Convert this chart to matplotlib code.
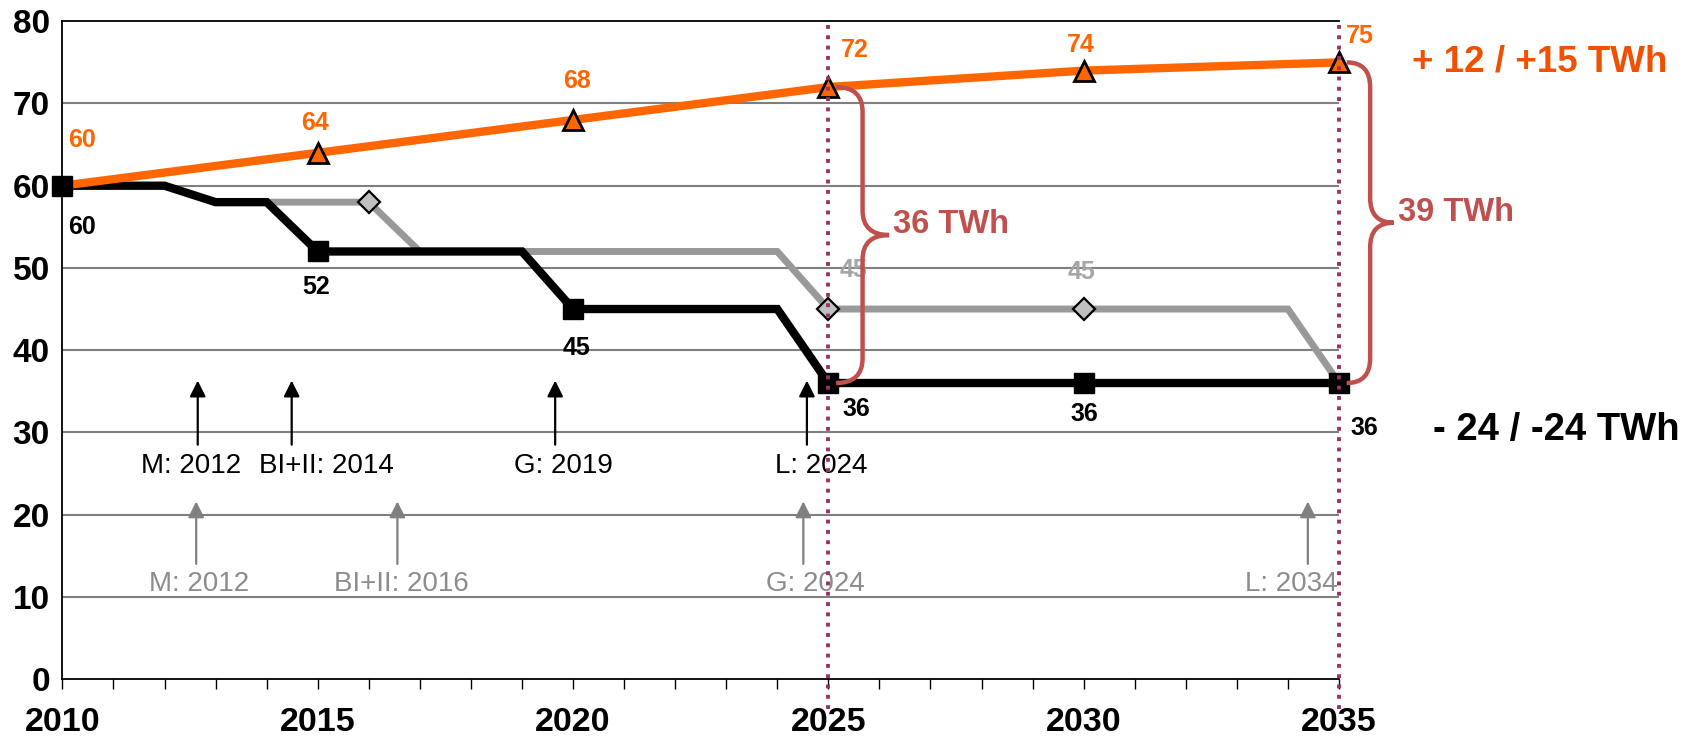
import matplotlib
matplotlib.use("Agg")
import matplotlib.pyplot as plt
from matplotlib.path import Path
from matplotlib.patches import PathPatch

plt.rcParams['font.family'] = ['Liberation Sans', 'DejaVu Sans']

# yearly capacity of the two phase-out paths
years = list(range(2010, 2036))
black_vals = [60, 60, 60, 58, 58, 52, 52, 52, 52, 52, 45, 45, 45, 45, 45,
              36, 36, 36, 36, 36, 36, 36, 36, 36, 36, 36]
gray_vals = [60, 60, 60, 58, 58, 58, 58, 52, 52, 52, 52, 52, 52, 52, 52,
             45, 45, 45, 45, 45, 45, 45, 45, 45, 45, 36]

# demand path
demand_years = [2010, 2015, 2020, 2025, 2030, 2035]
demand_vals = [60, 64, 68, 72, 74, 75]

black_mark_years = [2010, 2015, 2020, 2025, 2030, 2035]
gray_mark_years = [2016, 2025, 2030]

# shutdown events (label, year position)
events_black = [("M: 2012", 2012.65), ("BI+II: 2014", 2014.49),
                ("G: 2019", 2019.65), ("L: 2024", 2024.58)]
events_gray = [("M: 2012", 2012.62), ("BI+II: 2016", 2016.56),
               ("G: 2024", 2024.51), ("L: 2034", 2034.39)]

ORANGE = '#FF6600'
GRAY = '#999999'
RED = '#C0504D'
PURPLE = '#993366'

fig = plt.figure(figsize=(16.96, 7.39), dpi=100)
ax = fig.add_axes([0.0368, 0.0812, 0.7527, 0.8900])
ax.set_xlim(2010, 2035)
ax.set_ylim(0, 80)

for y in range(10, 80, 10):
    ax.axhline(y, color='#7f7f7f', lw=1.5, zorder=1)
ax.spines['right'].set_visible(False)
for s in ['top', 'left', 'bottom']:
    ax.spines[s].set_linewidth(1.3)

ax.set_yticks(range(0, 81, 10))
ax.set_xticks(range(2010, 2036, 5))
ax.set_xticks(range(2010, 2036), minor=True)
ax.tick_params(axis='y', length=0, pad=9, labelsize=24)
ax.tick_params(axis='x', which='both', length=7, width=1, direction='out')
ax.tick_params(axis='x', which='major', pad=13, labelsize=24.5)
for lab in ax.get_xticklabels() + ax.get_yticklabels():
    lab.set_fontweight('bold')

# lines
ax.plot(years, gray_vals, color=GRAY, lw=5, zorder=2, solid_joinstyle='miter',
        clip_on=False)
ax.plot(years, black_vals, color='black', lw=6, zorder=3, solid_joinstyle='miter',
        clip_on=False)
ax.plot(demand_years, demand_vals, color=ORANGE, lw=6, zorder=4, clip_on=False)

ax.plot(gray_mark_years, [gray_vals[years.index(y)] for y in gray_mark_years],
        'D', ms=11.5, mfc='#C0C0C0', mec='black', mew=1.6, zorder=5, ls='none')
ax.plot(demand_years[1:], demand_vals[1:], '^', ms=15, mfc=ORANGE, mec='black',
        mew=2, zorder=6, ls='none', clip_on=False)
ax.plot(black_mark_years, [black_vals[years.index(y)] for y in black_mark_years],
        's', ms=14.5, color='black', zorder=7, ls='none', clip_on=False)

# value labels
orange_lab_pos = [(2010.39, 65.6), (2014.94, 67.6), (2020.07, 72.75),
                  (2025.51, 76.5), (2029.95, 77.1), (2035.41, 78.2)]
for v, (x, y) in zip(demand_vals, orange_lab_pos):
    ax.text(x, y, str(v), color=ORANGE, fontsize=18, fontweight='bold',
            ha='center', va='center', clip_on=False, zorder=8)

black_lab_pos = [(2010.38, 55.0), (2014.96, 47.7), (2020.06, 40.2),
                 (2025.55, 32.9), (2030.02, 32.2), (2035.5, 30.5)]
for yr, (x, y) in zip(black_mark_years, black_lab_pos):
    ax.text(x, y, str(black_vals[years.index(yr)]), color='black', fontsize=18,
            fontweight='bold', ha='center', va='center', clip_on=False, zorder=8)

gray_lab_pos = [(2025.49, 49.8), (2029.95, 49.5)]
for yr, (x, y) in zip(gray_mark_years[1:], gray_lab_pos):
    ax.text(x, y, str(gray_vals[years.index(yr)]), color='#A6A6A6', fontsize=18,
            fontweight='bold', ha='center', va='center', zorder=2.5)

# shutdown arrows
label_dx = [-0.14, 0.68, 0.16, 0.28]
for (name, x), dx in zip(events_black, label_dx):
    ax.annotate('', xy=(x, 36.3), xytext=(x, 28.5),
                arrowprops=dict(arrowstyle='-|>', color='black', lw=1.6,
                                mutation_scale=24, shrinkA=0, shrinkB=0))
    ax.text(x + dx, 25.9, name, fontsize=20, ha='center', va='center')

label_dx_g = [0.06, 0.07, 0.24, -0.33]
for (name, x), dx in zip(events_gray, label_dx_g):
    ax.annotate('', xy=(x, 21.6), xytext=(x, 14.0),
                arrowprops=dict(arrowstyle='-|>', color='#808080', lw=1.6,
                                mutation_scale=24, shrinkA=0, shrinkB=0))
    ax.text(x + dx, 11.55, name, fontsize=20, ha='center', va='center',
            color='#8c8c8c')

# dotted markers of the two target years
for x in (2025, 2035):
    ax.plot([x, x], [79.5, -3.6], ls=':', lw=2.8, color=PURPLE,
            clip_on=False, zorder=9)


def brace(x0, y_top, y_bot, w, r):
    xs, xt = x0 + w, x0 + 2 * w
    ym = (y_top + y_bot) / 2
    verts = [(x0, y_top), (xs, y_top), (xs, y_top - r), (xs, ym + r),
             (xs, ym), (xt, ym), (xs, ym), (xs, ym - r),
             (xs, y_bot + r), (xs, y_bot), (x0, y_bot)]
    codes = [Path.MOVETO, Path.CURVE3, Path.CURVE3, Path.LINETO,
             Path.CURVE3, Path.CURVE3, Path.CURVE3, Path.CURVE3,
             Path.LINETO, Path.CURVE3, Path.CURVE3]
    ax.add_patch(PathPatch(Path(verts, codes), fc='none', ec=RED, lw=3.2,
                           clip_on=False, zorder=10))
    return xt, ym


for yr, w, dx in [(2025, 0.52, 0.08), (2035, 0.46, 0.08)]:
    top = demand_vals[demand_years.index(yr)]
    bot = black_vals[years.index(yr)]
    xt, ym = brace(yr + 0.15, top, bot, w, 3.0)
    ax.text(xt + dx, ym + 1.3, f"{top - bot} TWh", color=RED, fontsize=23.5,
            fontweight='bold', ha='left', va='center', clip_on=False)

d_lo = demand_vals[demand_years.index(2025)] - demand_vals[0]
d_hi = demand_vals[-1] - demand_vals[0]
c_lo = black_vals[years.index(2025)] - black_vals[0]
c_hi = black_vals[-1] - black_vals[0]
ax.text(2036.42, 75.1, f"+ {d_lo} / +{d_hi} TWh", color='#F05000', fontsize=26.5,
        fontweight='bold', ha='left', va='center', clip_on=False)
ax.text(2036.84, 30.3, f"- {-c_lo} / {c_hi} TWh", color='black', fontsize=27.5,
        fontweight='bold', ha='left', va='center', clip_on=False)

fig.savefig('out.png', dpi=100)
